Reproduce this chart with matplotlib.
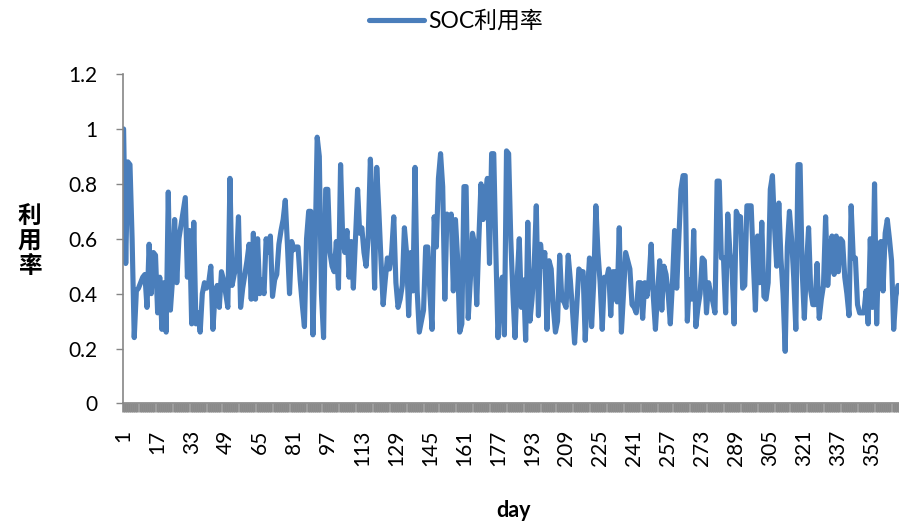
import matplotlib
matplotlib.use("Agg")
import matplotlib.pyplot as plt
import numpy as np
from matplotlib.ticker import FixedLocator

plt.rcParams['font.family'] = ['Lato', 'Noto Sans CJK SC', 'DejaVu Sans']

series_name = "SOC利用率"
x_label = "day"
y_label = "利\n用\n率"

soc = [
    1.00, 0.51, 0.88, 0.87, 0.60, 0.24, 0.41, 0.42, 0.44, 0.46,
    0.47, 0.35, 0.58, 0.40, 0.55, 0.54, 0.33, 0.46, 0.27, 0.44,
    0.26, 0.77, 0.34, 0.45, 0.67, 0.44, 0.60, 0.65, 0.70, 0.75,
    0.46, 0.63, 0.29, 0.66, 0.29, 0.33, 0.26, 0.40, 0.44, 0.42,
    0.44, 0.50, 0.27, 0.40, 0.43, 0.35, 0.48, 0.45, 0.40, 0.35,
    0.82, 0.43, 0.47, 0.50, 0.68, 0.35, 0.42, 0.47, 0.52, 0.58,
    0.38, 0.62, 0.38, 0.60, 0.40, 0.45, 0.40, 0.60, 0.55, 0.61,
    0.39, 0.45, 0.47, 0.58, 0.63, 0.67, 0.74, 0.58, 0.40, 0.59,
    0.56, 0.57, 0.57, 0.45, 0.36, 0.28, 0.60, 0.70, 0.70, 0.25,
    0.55, 0.97, 0.90, 0.40, 0.24, 0.78, 0.78, 0.55, 0.50, 0.48,
    0.59, 0.42, 0.87, 0.60, 0.55, 0.63, 0.46, 0.59, 0.42, 0.60,
    0.78, 0.62, 0.64, 0.55, 0.50, 0.61, 0.89, 0.70, 0.42, 0.86,
    0.70, 0.52, 0.36, 0.45, 0.53, 0.49, 0.55, 0.68, 0.44, 0.35,
    0.38, 0.43, 0.64, 0.55, 0.32, 0.55, 0.41, 0.86, 0.41, 0.26,
    0.30, 0.34, 0.57, 0.57, 0.40, 0.27, 0.68, 0.57, 0.82, 0.91,
    0.79, 0.38, 0.69, 0.65, 0.69, 0.41, 0.67, 0.53, 0.26, 0.29,
    0.79, 0.79, 0.31, 0.45, 0.62, 0.58, 0.36, 0.60, 0.80, 0.67,
    0.75, 0.82, 0.51, 0.91, 0.91, 0.55, 0.24, 0.40, 0.46, 0.25,
    0.92, 0.91, 0.60, 0.40, 0.24, 0.45, 0.60, 0.35, 0.45, 0.23,
    0.66, 0.30, 0.38, 0.50, 0.72, 0.32, 0.58, 0.50, 0.55, 0.27,
    0.52, 0.49, 0.35, 0.26, 0.30, 0.54, 0.38, 0.37, 0.35, 0.54,
    0.45, 0.34, 0.22, 0.35, 0.49, 0.48, 0.48, 0.23, 0.40, 0.53,
    0.28, 0.44, 0.72, 0.55, 0.44, 0.27, 0.46, 0.45, 0.49, 0.32,
    0.48, 0.48, 0.37, 0.64, 0.26, 0.40, 0.55, 0.52, 0.49, 0.36,
    0.35, 0.33, 0.44, 0.44, 0.31, 0.44, 0.39, 0.45, 0.58, 0.39,
    0.27, 0.40, 0.52, 0.34, 0.50, 0.47, 0.40, 0.29, 0.44, 0.63,
    0.42, 0.60, 0.78, 0.83, 0.83, 0.30, 0.45, 0.38, 0.63, 0.28,
    0.35, 0.40, 0.53, 0.52, 0.33, 0.44, 0.40, 0.37, 0.33, 0.81,
    0.81, 0.53, 0.53, 0.33, 0.69, 0.55, 0.49, 0.29, 0.70, 0.68,
    0.68, 0.42, 0.43, 0.72, 0.72, 0.72, 0.52, 0.34, 0.61, 0.44,
    0.66, 0.39, 0.38, 0.44, 0.78, 0.83, 0.64, 0.50, 0.73, 0.53,
    0.40, 0.19, 0.57, 0.70, 0.60, 0.46, 0.27, 0.87, 0.87, 0.48,
    0.31, 0.50, 0.64, 0.41, 0.36, 0.36, 0.51, 0.31, 0.38, 0.43,
    0.68, 0.43, 0.56, 0.61, 0.47, 0.61, 0.48, 0.60, 0.59, 0.46,
    0.40, 0.32, 0.72, 0.53, 0.53, 0.36, 0.33, 0.33, 0.33, 0.41,
    0.29, 0.60, 0.35, 0.80, 0.29, 0.58, 0.59, 0.41, 0.62, 0.67,
    0.60, 0.52, 0.27, 0.39, 0.43,
]
days = list(range(1, len(soc) + 1))
x_tick_labels = list(range(1, 366, 16))
y_ticks = [0, 0.2, 0.4, 0.6, 0.8, 1.0, 1.2]
y_tick_labels = ["0", "0.2", "0.4", "0.6", "0.8", "1", "1.2"]

line_color = "#4A7EBB"
axis_color = "#868686"

fig = plt.figure(figsize=(8.99, 5.24), dpi=100)
ax = fig.add_axes([0.1363, 0.230, 0.8637, 0.6287])

ax.plot(days, soc, color=line_color, lw=3.7, solid_joinstyle="round",
        solid_capstyle="round", label=series_name)

ax.set_xlim(0.5, 365.5)
ax.set_ylim(0, 1.2)

for s in ["top", "right"]:
    ax.spines[s].set_visible(False)
for s in ["left", "bottom"]:
    ax.spines[s].set_color(axis_color)
    ax.spines[s].set_linewidth(1.2)

ax.set_yticks(y_ticks)
ax.set_yticklabels(y_tick_labels)
ax.tick_params(axis="y", direction="out", length=5, width=1, color=axis_color,
               labelsize=15, pad=13, labelcolor="black")

ax.set_xticks(x_tick_labels)
ax.set_xticklabels([str(v) for v in x_tick_labels], rotation=90)
ax.tick_params(axis="x", which="major", length=0, pad=19, labelsize=15,
               labelcolor="black")
ax.xaxis.set_minor_locator(FixedLocator(np.arange(0.5, 366, 1)))
ax.tick_params(axis="x", which="minor", direction="out", length=6.5, width=1.9,
               color="#8a8a8a")

ax.set_xlabel(x_label, fontsize=15.5, fontweight="bold")
ax.xaxis.set_label_coords((513 - 122.5) / 776.5, (403.5 - 500) / 329.4)
ax.set_ylabel(y_label, rotation=0, fontsize=17, fontweight="bold",
              linespacing=1.1, va="center", ha="center")
ax.yaxis.set_label_coords((29.5 - 122.5) / 776.5, (403.5 - 241) / 329.4)

leg = fig.legend(handles=ax.get_lines(), loc="center",
                 bbox_to_anchor=(456 / 899, 1 - 21 / 524), frameon=False,
                 fontsize=16.5, handlelength=2.4, handletextpad=0.15)

fig.savefig("out.png", dpi=100)
